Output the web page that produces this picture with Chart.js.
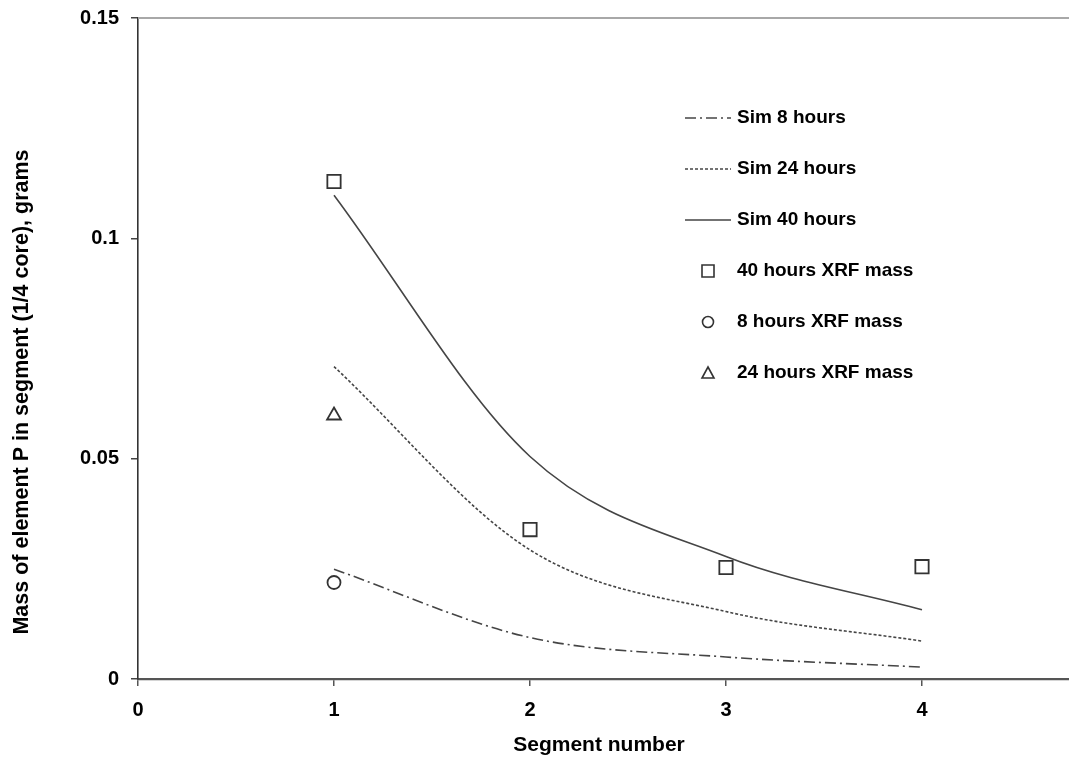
<!DOCTYPE html>
<html>
<head>
<meta charset="utf-8">
<script src="https://cdn.jsdelivr.net/npm/chart.js@4.4.1/dist/chart.umd.min.js"></script>
<style>
  html, body { margin: 0; padding: 0; background: #fff; }
  #wrap { width: 1069px; height: 764px; position: relative; }
</style>
</head>
<body>
<div id="wrap"><canvas id="chart" width="1069" height="764"></canvas></div>
<script>
// ─── Data ─────────────────────────────────────────────────────────
const SEGMENTS  = [1, 2, 3, 4];
const SIM_8H    = [0.0249, 0.0094, 0.0050, 0.0027];
const SIM_24H   = [0.0709, 0.0293, 0.0153, 0.0086];
const SIM_40H   = [0.1098, 0.0505, 0.0278, 0.0157];
const XRF_40H   = [0.1129, 0.0339, 0.0253, 0.0255];
const XRF_8H_X  = [1], XRF_8H  = [0.0219];
const XRF_24H_X = [1], XRF_24H = [0.0598];
const X_TICKS   = [0, 1, 2, 3, 4];
const Y_TICKS   = [0, 0.05, 0.1, 0.15];
const Y_LABELS  = ['0', '0.05', '0.1', '0.15'];

const FONT = '"Liberation Sans", Arial, sans-serif';
const INK  = '#333';
const pts  = (xs, ys) => xs.map((x, i) => ({ x, y: ys[i] }));

const lineDs = (label, ys, dash) => ({
  label, data: pts(SEGMENTS, ys), showLine: true, borderColor: '#454545', borderWidth: 1.6,
  borderDash: dash, pointRadius: 0, cubicInterpolationMode: 'monotone', fill: false, kind: 'line'
});
const markDs = (label, xs, ys, style, r) => ({
  label, data: pts(xs, ys), showLine: false, pointStyle: style, pointRadius: r, pointHoverRadius: r,
  pointBorderColor: INK, pointBackgroundColor: '#fff', pointBorderWidth: 1.8, kind: 'mark'
});

const datasets = [
  lineDs('Sim 8 hours',  SIM_8H,  [11, 4, 2, 4]),
  lineDs('Sim 24 hours', SIM_24H, [3, 2]),
  lineDs('Sim 40 hours', SIM_40H, []),
  markDs('40 hours XRF mass', SEGMENTS,  XRF_40H, 'rect', 9.4),
  markDs('8 hours XRF mass',  XRF_8H_X,  XRF_8H,  'circle', 6.5),
  markDs('24 hours XRF mass', XRF_24H_X, XRF_24H, 'triangle', 8),
];

// scales: fixed box sizes, no extra label padding, so the plot area is exact
const fixBox = (w, h) => s => {
  if (w != null) s.width = w;
  if (h != null) s.height = h;
  s.paddingTop = s.paddingBottom = s.paddingLeft = s.paddingRight = 0;
};

// ─── In-plot legend, titles and top frame line ────────────────────
const decor = {
  id: 'decor',
  afterDraw(chart) {
    const { ctx, chartArea: a } = chart;
    ctx.save();
    ctx.strokeStyle = '#a8a8a8'; ctx.lineWidth = 2;
    ctx.beginPath(); ctx.moveTo(a.left, a.top); ctx.lineTo(a.right, a.top); ctx.stroke();

    ctx.font = `bold 19px ${FONT}`;
    ctx.textBaseline = 'middle'; ctx.textAlign = 'left'; ctx.fillStyle = '#000';
    const y0 = 118, gap = 51, lx0 = 685, lx1 = 731, tx = 737, mx = 708;
    datasets.forEach((d, i) => {
      const y = y0 + i * gap;
      if (d.kind === 'line') {
        ctx.strokeStyle = d.borderColor; ctx.lineWidth = d.borderWidth; ctx.setLineDash(d.borderDash);
        ctx.beginPath(); ctx.moveTo(lx0, y); ctx.lineTo(lx1, y); ctx.stroke();
        ctx.setLineDash([]);
      } else {
        ctx.strokeStyle = INK; ctx.lineWidth = 1.6; ctx.fillStyle = '#fff';
        ctx.beginPath();
        if (d.pointStyle === 'rect') ctx.rect(mx - 6, y - 6, 12, 12);
        else if (d.pointStyle === 'circle') ctx.arc(mx, y, 5.5, 0, Math.PI * 2);
        else { ctx.moveTo(mx, y - 6); ctx.lineTo(mx + 6, y + 5); ctx.lineTo(mx - 6, y + 5); ctx.closePath(); }
        ctx.fill(); ctx.stroke();
        ctx.fillStyle = '#000';
      }
      ctx.fillText(d.label, tx, y);
    });

    ctx.textAlign = 'center';
    ctx.font = `bold 21px ${FONT}`;
    ctx.fillText('Segment number', 599, 745);
    ctx.font = `bold 21.5px ${FONT}`;
    ctx.translate(22, 392); ctx.rotate(-Math.PI / 2);
    ctx.fillText('Mass of element P in segment (1/4 core), grams', 0, 0);
    ctx.restore();
  }
};

new Chart(document.getElementById('chart'), {
  type: 'scatter',
  data: { datasets },
  options: {
    responsive: false, animation: false,
    layout: { autoPadding: false, padding: { top: 18, left: 0, right: 0, bottom: 0 } },
    plugins: { legend: { display: false }, tooltip: { enabled: false } },
    scales: {
      x: {
        type: 'linear', min: 0, max: 4.75,
        afterBuildTicks: s => { s.ticks = X_TICKS.map(v => ({ value: v })); },
        afterFit: fixBox(null, 85),
        grid: { display: true, drawOnChartArea: false, drawTicks: true, tickLength: 7, color: '#555', lineWidth: 1.5 },
        border: { display: true, color: '#555', width: 2.2 },
        ticks: { color: '#000', padding: 12, maxRotation: 0, font: { family: FONT, size: 20, weight: 'bold' } }
      },
      y: {
        type: 'linear', min: 0, max: 0.15,
        afterBuildTicks: s => { s.ticks = Y_TICKS.map(v => ({ value: v })); },
        afterFit: fixBox(138, null),
        grid: { display: true, drawOnChartArea: false, drawTicks: true, tickLength: 7, color: '#444', lineWidth: 1.5 },
        border: { display: true, color: '#333', width: 1.6 },
        ticks: {
          color: '#000', padding: 12, font: { family: FONT, size: 20, weight: 'bold' },
          callback: (v) => Y_LABELS[Y_TICKS.findIndex(t => Math.abs(t - v) < 1e-9)] ?? ''
        }
      }
    }
  },
  plugins: [decor]
});
</script>
</body>
</html>
